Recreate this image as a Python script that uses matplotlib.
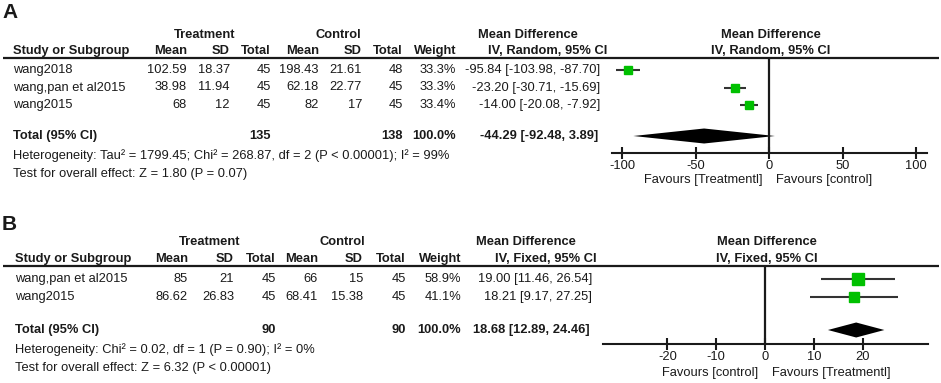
import matplotlib.pyplot as plt
from matplotlib.patches import Polygon
from matplotlib.transforms import offset_copy, blended_transform_factory

plt.rcParams['font.family'] = ['Liberation Sans', 'DejaVu Sans']

# ---- panel A data (random effects) ----
studies_a = ["wang2018", "wang,pan et al2015", "wang2015"]
trt_mean_a = [102.59, 38.98, 68]
trt_sd_a = [18.37, 11.94, 12]
trt_n_a = [45, 45, 45]
ctl_mean_a = [198.43, 62.18, 82]
ctl_sd_a = [21.61, 22.77, 17]
ctl_n_a = [48, 45, 45]
weight_a = [33.3, 33.3, 33.4]
md_a = [-95.84, -23.20, -14.00]
lo_a = [-103.98, -30.71, -20.08]
hi_a = [-87.70, -15.69, -7.92]
total_a = (-44.29, -92.48, 3.89)
het_a = "Heterogeneity: Tau² = 1799.45; Chi² = 268.87, df = 2 (P < 0.00001); I² = 99%"
overall_a = "Test for overall effect: Z = 1.80 (P = 0.07)"
ticks_a = [-100, -50, 0, 50, 100]

# ---- panel B data (fixed effects) ----
studies_b = ["wang,pan et al2015", "wang2015"]
trt_mean_b = [85, 86.62]
trt_sd_b = [21, 26.83]
trt_n_b = [45, 45]
ctl_mean_b = [66, 68.41]
ctl_sd_b = [15, 15.38]
ctl_n_b = [45, 45]
weight_b = [58.9, 41.1]
md_b = [19.00, 18.21]
lo_b = [11.46, 9.17]
hi_b = [26.54, 27.25]
total_b = (18.68, 12.89, 24.46)
het_b = "Heterogeneity: Chi² = 0.02, df = 1 (P = 0.90); I² = 0%"
overall_b = "Test for overall effect: Z = 6.32 (P < 0.00001)"
ticks_b = [-20, -10, 0, 10, 20]

W, H = 941, 383
FS = 9.25
INK = '#1a1a1a'
GREEN = '#00c000'

fig = plt.figure(figsize=(W / 100, H / 100), dpi=100)
bg = fig.add_axes([0, 0, 1, 1])
bg.set_xlim(0, W)
bg.set_ylim(H, 0)
bg.axis('off')


def txt(x, y, s, ha='right', bold=False, size=FS):
    bg.text(x, y, s, ha=ha, va='center', fontsize=size, color=INK,
            fontweight='bold' if bold else 'normal')


def panel(p):
    cols = p['cols']  # right edges: mean, sd, total, mean, sd, total, weight, md
    y0 = p['y_top']
    txt(2, p['label_y'], p['label'], ha='left', bold=True, size=15)
    # group headers
    txt(p['trt_c'], p['h1'], "Treatment", ha='center', bold=True)
    txt(p['ctl_c'], p['h1'], "Control", ha='center', bold=True)
    txt(p['md_c'], p['h1'], "Mean Difference", ha='center', bold=True)
    txt(p['plot_c'], p['h1'], "Mean Difference", ha='center', bold=True)
    heads = ["Mean", "SD", "Total", "Mean", "SD", "Total", "Weight"]
    txt(p['left'], p['h2'], "Study or Subgroup", ha='left', bold=True)
    for x, h in zip(cols, heads):
        txt(x, p['h2'], h, bold=True)
    txt(p['md_head'], p['h2'], p['method'], bold=True)
    txt(p['plot_c'], p['h2'], p['method'], ha='center', bold=True)
    bg.plot([3, W - 2], [y0, y0], color=INK, lw=1.6, solid_capstyle='butt')

    rows = p['rows']
    for i, name in enumerate(p['studies']):
        y = rows[i]
        txt(p['left'], y, name, ha='left')
        vals = [f"{p['tm'][i]:g}", f"{p['ts'][i]:g}", f"{p['tn'][i]}",
                f"{p['cm'][i]:g}", f"{p['cs'][i]:g}", f"{p['cn'][i]}",
                f"{p['w'][i]:.1f}%",
                f"{p['md'][i]:.2f} [{p['lo'][i]:.2f}, {p['hi'][i]:.2f}]"]
        for x, v in zip(cols, vals):
            txt(x, y, v)

    yt = p['total_y']
    tm, tl, th = p['total']
    txt(p['left'], yt, "Total (95% CI)", ha='left', bold=True)
    txt(cols[2], yt, f"{sum(p['tn'])}", bold=True)
    txt(cols[5], yt, f"{sum(p['cn'])}", bold=True)
    txt(cols[6], yt, f"{sum(p['w']):.1f}%", bold=True)
    txt(cols[7] - 2, yt, f"{tm:.2f} [{tl:.2f}, {th:.2f}]", bold=True)
    txt(p['left'], p['het_y'], p['het'], ha='left')
    txt(p['left'], p['het_y'] + 17.5, p['overall'], ha='left')

    # forest plot
    x0, x1 = p['plot_px']
    ax = fig.add_axes([x0 / W, 1 - p['axis_y'] / H, (x1 - x0) / W,
                       (p['axis_y'] - y0) / H])
    ax.set_xlim(*p['xlim'])
    ax.set_ylim(p['axis_y'], y0)
    ax.patch.set_alpha(0)
    for s in ['top', 'right', 'left']:
        ax.spines[s].set_visible(False)
    ax.spines['bottom'].set_linewidth(1.5)
    ax.spines['bottom'].set_color(INK)
    ax.set_yticks([])
    ax.set_xticks(p['ticks'])
    ax.set_xticklabels([f"{t}" for t in p['ticks']])
    ax.tick_params(axis='x', direction='inout', length=8, width=1.5,
                   color=INK, labelsize=FS, labelcolor=INK, pad=1)
    ax.axvline(0, color=INK, lw=1.6)

    for i in range(len(p['studies'])):
        y = rows[i]
        ax.plot([p['lo'][i], p['hi'][i]], [y, y], color='#333333', lw=1.5,
                solid_capstyle='butt')
        ax.plot(p['md'][i], y, marker='s', ms=1.1 * p['w'][i] ** 0.5,
                color=GREEN, mec=GREEN, ls='none')
    dh = 7.5
    ax.add_patch(Polygon([(tl, yt), (tm, yt - dh), (th, yt), (tm, yt + dh)],
                         closed=True, color='black', lw=0))

    fy = p['fav_y']
    left_tr = offset_copy(ax.transData, fig=fig, x=-5, y=0, units='points')
    right_tr = offset_copy(ax.transData, fig=fig, x=5, y=0, units='points')
    bg.text(0, fy, p['fav_left'], transform=blended_transform_factory(left_tr, bg.transData),
            ha='right', va='center', fontsize=FS, color=INK)
    bg.text(0, fy, p['fav_right'], transform=blended_transform_factory(right_tr, bg.transData),
            ha='left', va='center', fontsize=FS, color=INK)


panel(dict(label='A', label_y=12, h1=35, h2=51, y_top=58, left=13,
           cols=[187, 230, 271, 319, 362, 403, 456, 600], md_head=607,
           trt_c=205, ctl_c=338, md_c=528, plot_c=771, method="IV, Random, 95% CI",
           studies=studies_a, tm=trt_mean_a, ts=trt_sd_a, tn=trt_n_a,
           cm=ctl_mean_a, cs=ctl_sd_a, cn=ctl_n_a, w=weight_a,
           md=md_a, lo=lo_a, hi=hi_a, total=total_a,
           rows=[70, 87.5, 105], total_y=136, het_y=156,
           het=het_a, overall=overall_a,
           plot_px=(612, 927), xlim=(-107, 107.5), axis_y=153, ticks=ticks_a,
           fav_y=180, fav_left="Favours [Treatmentl]", fav_right="Favours [control]"))

panel(dict(label='B', label_y=225, h1=242, h2=259, y_top=266, left=15,
           cols=[188, 234, 276, 318, 363, 406, 461, 592], md_head=597,
           trt_c=210, ctl_c=342, md_c=526, plot_c=767, method="IV, Fixed, 95% CI",
           studies=studies_b, tm=trt_mean_b, ts=trt_sd_b, tn=trt_n_b,
           cm=ctl_mean_b, cs=ctl_sd_b, cn=ctl_n_b, w=weight_b,
           md=md_b, lo=lo_b, hi=hi_b, total=total_b,
           rows=[279, 297], total_y=330, het_y=350,
           het=het_b, overall=overall_b,
           plot_px=(603, 928), xlim=(-33.2, 33.4), axis_y=344, ticks=ticks_b,
           fav_y=373, fav_left="Favours [control]", fav_right="Favours [Treatmentl]"))

fig.savefig('out.png', dpi=100)
